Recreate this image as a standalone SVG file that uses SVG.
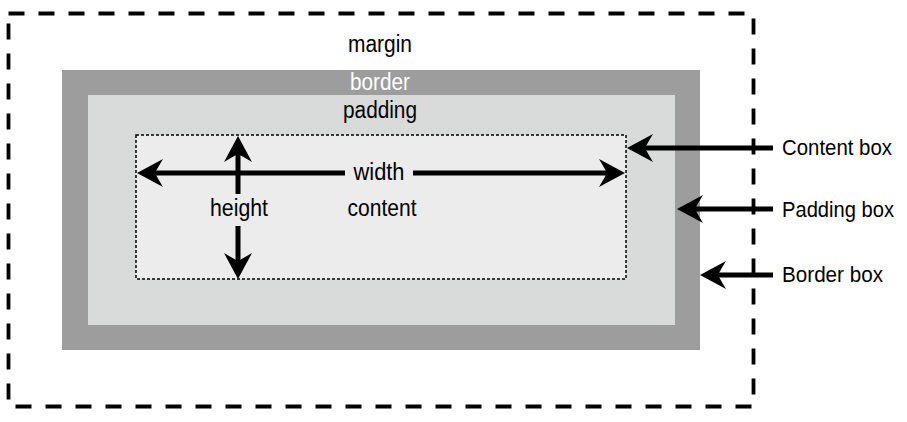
<svg xmlns="http://www.w3.org/2000/svg" width="907" height="422" viewBox="0 0 907 422">
<style>
text{font-family:"Liberation Sans",Arial,sans-serif;font-size:23px;fill:#000}
text.side{font-size:21.5px}
.ln{stroke:#000;stroke-width:5;fill:none}
.ah{fill:#000}
</style>
<defs>
<path id="head" d="M0,0 L-26,-14 Q-20,-4 -18,0 Q-20,4 -26,14 Z"/>
</defs>
<rect width="907" height="422" fill="#fff"/>
<g id="margin-box">
<rect x="8.5" y="13.5" width="745" height="393" fill="none" stroke="#000" stroke-width="3.8" stroke-dasharray="16 14"/>
<text x="380" y="52" text-anchor="middle" textLength="64" lengthAdjust="spacingAndGlyphs">margin</text>
</g>
<g id="border-box">
<rect x="62" y="70" width="638" height="280" fill="#9d9d9d"/>
<text x="380" y="90" text-anchor="middle" textLength="60" lengthAdjust="spacingAndGlyphs" style="fill:#fff">border</text>
</g>
<g id="padding-box">
<rect x="88" y="95" width="587" height="230" fill="#d9dbdb"/>
<text x="380" y="118" text-anchor="middle" textLength="74" lengthAdjust="spacingAndGlyphs">padding</text>
</g>
<g id="content-box">
<rect x="136" y="135" width="490" height="144" fill="#ececec" stroke="#000" stroke-width="1.5" stroke-dasharray="3 2"/>
<text x="382" y="216" text-anchor="middle" textLength="69" lengthAdjust="spacingAndGlyphs">content</text>
</g>
<g id="connectors">
<line class="ln" x1="153" y1="173" x2="345" y2="173"/>
<line class="ln" x1="413" y1="173" x2="609" y2="173"/>
<use href="#head" class="ah" transform="translate(137,173) rotate(180)"/>
<use href="#head" class="ah" transform="translate(625,173)"/>
<line class="ln" x1="238" y1="152" x2="238" y2="194"/>
<line class="ln" x1="238" y1="226" x2="238" y2="262"/>
<use href="#head" class="ah" transform="translate(238,136) rotate(-90)"/>
<use href="#head" class="ah" transform="translate(238,279) rotate(90)"/>
<line class="ln" x1="644" y1="148" x2="773" y2="148"/>
<use href="#head" class="ah" transform="translate(627,148) rotate(180)"/>
<line class="ln" x1="694" y1="209" x2="773" y2="209"/>
<use href="#head" class="ah" transform="translate(677,209) rotate(180)"/>
<line class="ln" x1="717" y1="275" x2="773" y2="275"/>
<use href="#head" class="ah" transform="translate(700,275) rotate(180)"/>
</g>
<g id="labels">
<text x="379" y="180" text-anchor="middle" textLength="51" lengthAdjust="spacingAndGlyphs">width</text>
<text x="239" y="216" text-anchor="middle" textLength="58" lengthAdjust="spacingAndGlyphs">height</text>
<text class="side" x="782" y="155" textLength="110" lengthAdjust="spacingAndGlyphs">Content box</text>
<text class="side" x="782" y="217" textLength="112" lengthAdjust="spacingAndGlyphs">Padding box</text>
<text class="side" x="782" y="282" textLength="101" lengthAdjust="spacingAndGlyphs">Border box</text>
</g>
</svg>
